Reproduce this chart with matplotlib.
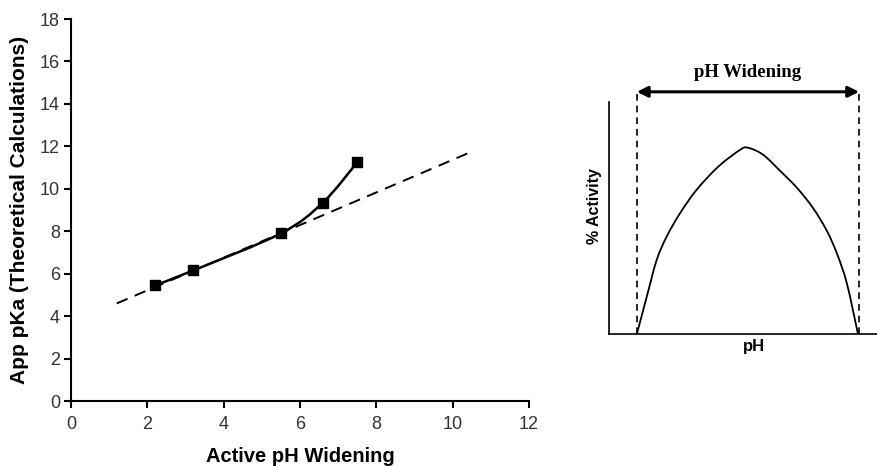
import matplotlib
matplotlib.use("Agg")
import matplotlib.pyplot as plt
from matplotlib.path import Path
from matplotlib.patches import PathPatch, FancyArrowPatch
import numpy as np

plt.rcParams['font.family'] = ['Liberation Sans', 'DejaVu Sans']

# ---- Left chart data ----
ph_widening = [2.2, 3.2, 5.5, 6.6, 7.5]
app_pka = [5.45, 6.15, 7.9, 9.35, 11.25]
trend_x = [1.2, 10.5]
trend_y = [4.6, 11.75]
x_ticks = [0, 2, 4, 6, 8, 10, 12]
y_ticks = [0, 2, 4, 6, 8, 10, 12, 14, 16, 18]

# ---- Right schematic data ----
sch_ph = [1.04, 1.41, 1.78, 2.15, 2.65, 3.27, 4.08, 4.89, 5.19, 5.75, 6.38, 7.01, 7.61, 8.13, 8.51, 8.88, 9.29]
sch_act = [0, 16.1, 31.9, 41.9, 52.0, 62.1, 72.1, 79.3, 80.2, 77.2, 70.3, 63.0, 54.3, 44.4, 34.5, 21.6, 0]
widen_lo, widen_hi = 1.04, 9.33
arrow_level = 104.3


def smooth_path(xs, ys, tension=0.5):
    pts = np.column_stack([xs, ys]).astype(float)
    verts = [pts[0]]
    codes = [Path.MOVETO]
    n = len(pts)
    for i in range(n - 1):
        p0 = pts[i - 1] if i > 0 else pts[i]
        p1 = pts[i]
        p2 = pts[i + 1]
        p3 = pts[i + 2] if i + 2 < n else pts[i + 1]
        c1 = p1 + (p2 - p0) * tension / 3
        c2 = p2 - (p3 - p1) * tension / 3
        verts += [c1, c2, p2]
        codes += [Path.CURVE4] * 3
    return Path(verts, codes)


W, H = 877, 466
fig = plt.figure(figsize=(W / 100, H / 100), dpi=100)

ax = fig.add_axes([71 / W, (H - 401) / H, 458 / W, 382 / H])
ax.set_xlim(0, 12)
ax.set_ylim(0, 18)
ax.spines['top'].set_visible(False)
ax.spines['right'].set_visible(False)
for s in ['left', 'bottom']:
    ax.spines[s].set_linewidth(1.5)
ax.set_xticks(x_ticks)
ax.set_yticks(y_ticks)
ax.tick_params(direction='out', length=5, width=1.5, labelsize=13, colors='black', labelcolor='#333333')
ax.tick_params(axis='x', pad=6)
ax.tick_params(axis='y', pad=3)

ax.plot(trend_x, trend_y, color='black', lw=1.4, ls=(0, (6, 4)))
ax.add_patch(PathPatch(smooth_path(ph_widening, app_pka), fill=False, lw=1.8, color='black'))
ax.plot(ph_widening, app_pka, ls='none', marker='s', ms=7.5, color='black')

ax.set_xlabel('Active pH Widening', fontsize=14.5, fontweight='bold', labelpad=10)
ax.set_ylabel('App pKa (Theoretical Calculations)', fontsize=15, fontweight='bold', labelpad=8)

# ---- Right schematic ----
ax2 = fig.add_axes([609 / W, (H - 334) / H, (W - 609) / W, 274 / H])
ax2.set_xlim(0, 10)
ax2.set_ylim(0, 118)
ax2.axis('off')
ax2.plot([0, 10], [0, 0], color='black', lw=1.2, clip_on=False)
ax2.plot([0, 0], [0, 100], color='black', lw=1.2, clip_on=False)
ax2.add_patch(PathPatch(smooth_path(sch_ph, sch_act), fill=False, lw=1.3, color='black'))
for xv in (widen_lo, widen_hi):
    ax2.plot([xv, xv], [0, arrow_level], color='black', lw=1.2, ls=(0, (4, 3)))
arr = FancyArrowPatch((widen_lo, arrow_level), (widen_hi, arrow_level), arrowstyle='<|-|>',
                      mutation_scale=16, color='black', lw=2.2, shrinkA=0, shrinkB=0)
ax2.add_patch(arr)
ax2.text((widen_lo + widen_hi) / 2, 112.5, 'pH Widening', ha='center', va='center',
         fontsize=13.5, fontweight='bold', family=['Liberation Serif', 'DejaVu Serif'])
ax2.text(-0.55, 55, '% Activity', rotation=90, ha='center', va='center', fontsize=11.5, fontweight='bold')
ax2.text(5.4, -5.5, 'pH', ha='center', va='center', fontsize=12, fontweight='bold')

fig.savefig('out.png', dpi=100)
